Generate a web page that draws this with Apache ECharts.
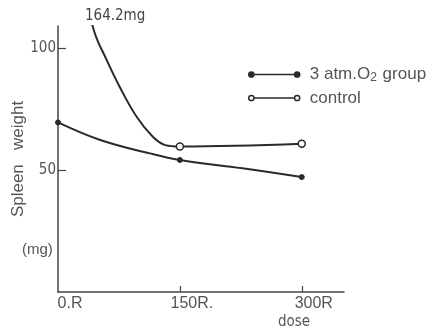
<!DOCTYPE html>
<html><head><meta charset="utf-8">
<script src="https://cdn.jsdelivr.net/npm/echarts@6/dist/echarts.min.js"></script>
<style>html,body{margin:0;padding:0;background:#fff}#c{width:436px;height:333px}</style>
</head><body><div id="c"></div>
<script>
const seriesNames = ['3 atm.O2 group', 'control'];
const oxyDoses = [0, 52, 113, 150, 227, 300];
const oxyWeights = [69.5, 62.3, 56.8, 54.1, 50.7, 47.1];
const ctrlDoses = [0, 44, 60, 76, 97, 117, 132, 150, 300];
const ctrlWeights = [164.2, 107.4, 95, 84, 71.7, 63.5, 60.2, 59.6, 60.7];
const markedDoses = [0, 150, 300];
const xTickValues = [150, 300];
const xLabelValues = [0, 150, 300];
const xTickLabels = ['0.R', '150R.', '300R'];
const yTickValues = [50, 100];
const offScaleLabel = '164.2mg';
const yName = 'Spleen   weight';
const yUnit = '(mg)';
const xName = 'dose';

const NARROW = '"Liberation Sans Narrow","DejaVu Sans Condensed",sans-serif';
const SANS = '"Liberation Sans",Arial,sans-serif';
const TXT = '#555';
const INK = '#2a2a2a';

function build(doses, weights) {
  return doses.map((d, i) => markedDoses.includes(d)
    ? { value: [d, weights[i]] }
    : { value: [d, weights[i]], symbol: 'none' });
}
const legendPath = 'path://M3.5,3.5m-2.5,0a2.5,2.5 0 1,0 5,0a2.5,2.5 0 1,0 -5,0M6,3.5L45,3.5M47.5,3.5m-2.5,0a2.5,2.5 0 1,0 5,0a2.5,2.5 0 1,0 -5,0';

const chart = echarts.init(document.getElementById('c'), null, { renderer: 'canvas' });
chart.setOption({
  animation: false,
  backgroundColor: '#fff',
  grid: { left: 58, right: 92, top: 26, bottom: 41, containLabel: false, outerBoundsMode: 'none' },
  xAxis: {
    type: 'value', min: 0, max: 352,
    axisLine: { show: true, lineStyle: { color: '#444', width: 1.5 } },
    splitLine: { show: false },
    axisTick: { show: true, inside: true, length: 6, customValues: xTickValues, lineStyle: { color: '#444', width: 1.2 } },
    axisLabel: {
      customValues: xLabelValues,
      formatter: v => xTickLabels[xLabelValues.indexOf(v)] || '',
      margin: 4, fontFamily: SANS, fontSize: 16, color: TXT, padding: [0, 0, 0, 24]
    }
  },
  yAxis: {
    type: 'value', min: 0, max: 109,
    axisLine: { show: true, lineStyle: { color: '#444', width: 1.5 } },
    splitLine: { show: false },
    axisTick: { show: true, inside: true, length: 8, customValues: yTickValues, lineStyle: { color: '#444', width: 1.2 } },
    axisLabel: { customValues: yTickValues, margin: 2, fontFamily: NARROW, fontSize: 15, color: TXT },
    name: yName, nameLocation: 'middle', nameGap: 31, nameRotate: 90, nameMoveOverlap: false,
    nameTextStyle: { fontFamily: SANS, fontSize: 17, color: TXT }
  },
  legend: {
    orient: 'vertical', left: 243, top: 61, itemWidth: 51, itemHeight: 7, itemGap: 6,
    data: [
      { name: seriesNames[0], icon: legendPath, itemStyle: { color: INK, borderColor: INK, borderWidth: 1.5 } },
      { name: seriesNames[1], icon: legendPath, itemStyle: { color: '#fff', borderColor: INK, borderWidth: 1.5 } }
    ],
    formatter: n => n === seriesNames[0] ? '3 atm.O{sub|2} group' : n,
    textStyle: { fontFamily: SANS, fontSize: 17, color: TXT, padding: [0, 0, 0, 5],
      rich: { sub: { fontFamily: SANS, fontSize: 12, color: TXT, padding: [6, 1, 0, 0] } } }
  },
  graphic: [
    { type: 'text', left: 85, top: 9, style: { text: offScaleLabel, font: '15px ' + NARROW, fill: '#444' } },
    { type: 'text', left: 22, top: 242, style: { text: yUnit, font: '15px ' + SANS, fill: TXT } },
    { type: 'text', left: 278, top: 315, style: { text: xName, font: '15px ' + NARROW, fill: TXT } }
  ],
  series: [
    {
      name: seriesNames[0], type: 'line', smooth: 0.4, clip: true,
      data: build(oxyDoses, oxyWeights),
      symbol: 'circle', symbolSize: 5,
      lineStyle: { color: INK, width: 2 },
      itemStyle: { color: INK, borderColor: INK, borderWidth: 1 }
    },
    {
      name: seriesNames[1], type: 'line', smooth: 0.4, clip: true,
      data: build(ctrlDoses, ctrlWeights),
      symbol: 'circle', symbolSize: 7,
      lineStyle: { color: INK, width: 2 },
      itemStyle: { color: '#fff', borderColor: INK, borderWidth: 1.5 }
    }
  ]
});
</script>
</body></html>
